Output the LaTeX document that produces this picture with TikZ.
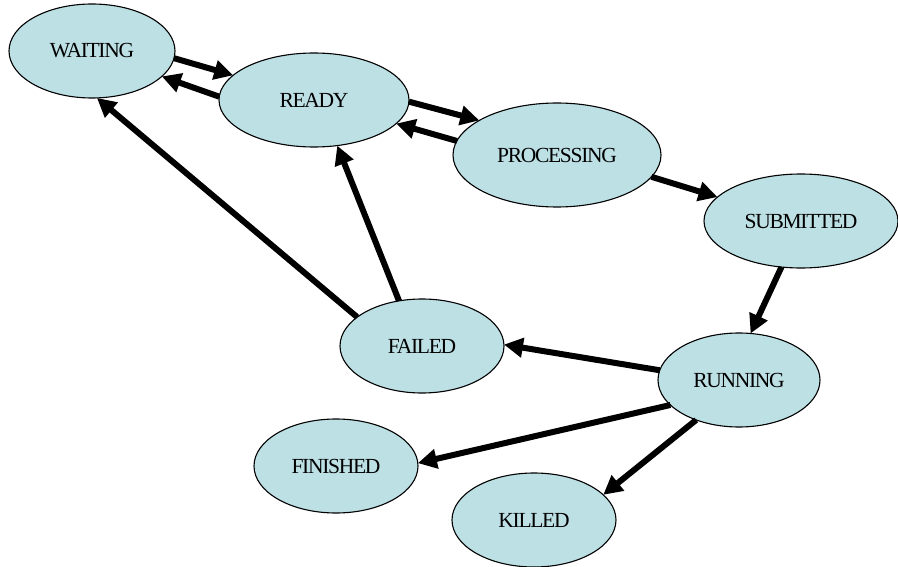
\documentclass[tikz,border=0pt]{standalone}
\usepackage{fontspec}
\setmainfont{Liberation Serif}
\newfontfamily\lblfont[LetterSpace=-6]{Liberation Serif}
\usetikzlibrary{shapes.geometric,arrows.meta}
\definecolor{stfill}{RGB}{189,224,229}
\begin{document}
\begin{tikzpicture}[x=1pt,y=-1pt,
  st/.style={ellipse,draw=black,line width=1.1pt,fill=stfill,inner sep=0pt,outer sep=0pt,
    font=\lblfont\fontsize{21.5}{24}\selectfont},
  tr/.style={line width=6pt,-{Triangle[length=19pt,width=19pt]}}]
\useasboundingbox (0,0) rectangle (898,567);
\node[st,minimum width=166pt,minimum height=94pt] (w) at (92,51) {WAITING};
\node[st,minimum width=190pt,minimum height=94pt] (r) at (314,100) {READY};
\node[st,minimum width=208pt,minimum height=104pt] (p) at (557,155) {PROCESSING};
\node[st,minimum width=194pt,minimum height=94pt] (s) at (801,221) {SUBMITTED};
\node[st,minimum width=164pt,minimum height=94pt] (f) at (422,346) {FAILED};
\node[st,minimum width=162pt,minimum height=94pt] (u) at (739,380) {RUNNING};
\node[st,minimum width=164pt,minimum height=94pt] (fi) at (336,466) {FINISHED};
\node[st,minimum width=164pt,minimum height=94pt] (k) at (534,520) {KILLED};
\draw[tr] (w.355) -- (r.163);
\draw[tr] (r.178) -- (w.340);
\draw[tr] (r.359) -- (p.156);
\draw[tr] (p.172) -- (r.344);
\draw[tr] (p.347) -- (s.164);
\draw[tr] (s.247) -- (u.76);
\draw[tr] (u.173) -- (f.1);
\draw[tr] (u.200) -- (fi.2);
\draw[tr] (u.223) -- (k.20);
\draw[tr] (f.117) -- (r.297);
\draw[tr] (f.156) -- (w.276);
\end{tikzpicture}
\end{document}
